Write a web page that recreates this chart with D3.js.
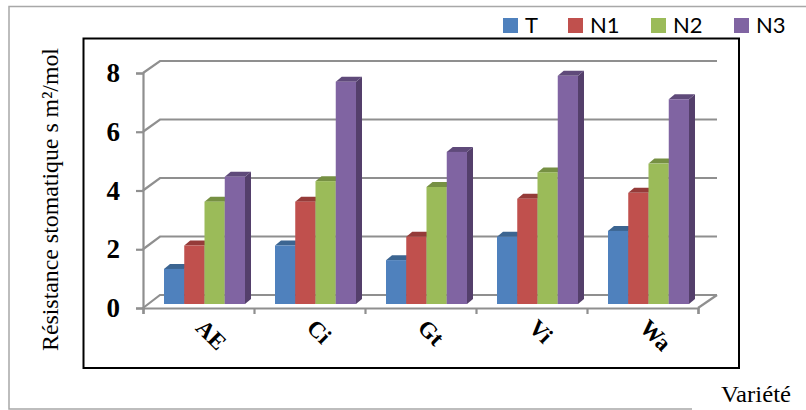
<!DOCTYPE html>
<html>
<head>
<meta charset="utf-8">
<script src="https://cdn.jsdelivr.net/npm/d3@7/dist/d3.min.js"></script>
<style>
  html, body { margin: 0; padding: 0; background: #fff; }
  svg { display: block; }
</style>
</head>
<body>
<div id="chart"></div>
<script>
const categories = ["AE", "Ci", "Gt", "Vi", "Wa"];
const seriesNames = ["T", "N1", "N2", "N3"];
const valuesT = [1.2, 2, 1.5, 2.3, 2.5];
const valuesN1 = [2, 3.5, 2.3, 3.6, 3.8];
const valuesN2 = [3.5, 4.2, 4, 4.5, 4.8];
const valuesN3 = [4.35, 7.6, 5.2, 7.8, 7];
const seriesValues = [valuesT, valuesN1, valuesN2, valuesN3];
const yTicks = [0, 2, 4, 6, 8];

const faceColors = ["#4f81bd", "#c0504d", "#9bbb59", "#8064a2"];
const topColors = ["#3c6591", "#953b39", "#769043", "#5f4a7a"];
const sideColor = "#543f6b";
const gridColor = "#8f8f8f";
const serif = "'Liberation Serif', 'Times New Roman', serif";

const width = 806, height = 410;
const depthX = 17, depthY = 12;      // oblique offset of the back wall
const barDepthX = 6, barDepthY = 5;  // oblique offset of each bar

const svg = d3.select("#chart").append("svg")
  .attr("width", width).attr("height", height);

// Outer frame, open on the right side
svg.append("path")
  .attr("d", d3.line()([[806, 6.5], [9, 6.5], [9, 409], [692, 409]]))
  .attr("fill", "none").attr("stroke", "#a8a8a8").attr("stroke-width", 1.5);

// Plot frame
svg.append("rect")
  .attr("x", 83.5).attr("y", 38.5).attr("width", 655.5).attr("height", 329.5)
  .attr("fill", "#fff").attr("stroke", "#000").attr("stroke-width", 2);

const x = d3.scaleBand().domain(categories).range([143, 698]);
const yFront = d3.scaleLinear().domain([0, 8]).range([308, 73]);
const yWall = d3.scaleLinear().domain([0, 8]).range([295, 61]);
const yBar = d3.scaleLinear().domain([0, 8]).range([304, 70]);
const xSeries = d3.scaleBand().domain(d3.range(seriesNames.length)).range([21, 102]);

// Gridlines on the back wall and their diagonals down to the front axis
const grid = svg.append("g").attr("fill", "none").attr("stroke", gridColor).attr("stroke-width", 2.2);
yTicks.forEach(t => {
  grid.append("path").attr("d", d3.line()([
    [x.range()[0], yFront(t)],
    [x.range()[0] + depthX, yWall(t)],
    [x.range()[1] + depthX + 2, yWall(t)]
  ]));
});
// Floor edge on the right
grid.append("path").attr("d", d3.line()([
  [x.range()[1], yFront(0)],
  [x.range()[1] + depthX + 2, yWall(0)]
]));

// Value axis
const axisY = d3.axisLeft(yFront).tickValues(yTicks).tickFormat(d3.format("d")).tickSize(7).tickPadding(16);
const gy = svg.append("g").attr("transform", `translate(${x.range()[0]},0)`).call(axisY);
gy.selectAll("path,line").attr("stroke", gridColor).attr("stroke-width", 2.2);
gy.selectAll("text")
  .attr("font-family", serif).attr("font-weight", "bold").attr("font-size", 27).attr("fill", "#000");

// Category axis: ticks sit on the band edges
const axisX = d3.axisBottom(d3.scaleLinear().domain([0, categories.length]).range(x.range()))
  .ticks(categories.length).tickFormat("").tickSize(6).tickSizeOuter(6);
const gx = svg.append("g").attr("transform", `translate(0,${yFront(0)})`).call(axisX);
gx.selectAll("path,line").attr("stroke", gridColor).attr("stroke-width", 2.2);

// Bars, drawn series by series so each one covers the side of its left neighbour
const barW = xSeries.bandwidth();
const poly = pts => d3.line()(pts) + "Z";
seriesNames.forEach((name, s) => {
  const g = svg.append("g").attr("class", "series-" + name);
  categories.forEach((c, i) => {
    const left = x(c) + xSeries(s), right = left + barW;
    const top = yBar(seriesValues[s][i]), base = yBar(0);
    g.append("path").attr("fill", sideColor).attr("d", poly([
      [right, top], [right + barDepthX, top - barDepthY],
      [right + barDepthX, base - barDepthY], [right, base]
    ]));
    g.append("path").attr("fill", topColors[s]).attr("d", poly([
      [left, top], [right, top],
      [right + barDepthX, top - barDepthY], [left + barDepthX, top - barDepthY]
    ]));
    g.append("rect").attr("fill", faceColors[s])
      .attr("x", left).attr("y", top).attr("width", barW).attr("height", base - top);
  });
});

// Category labels
svg.append("g").selectAll("text").data(categories).join("text")
  .attr("transform", c => `translate(${x(c) + x.bandwidth() / 2 - 4},329) rotate(45)`)
  .attr("font-family", serif).attr("font-weight", "bold").attr("font-size", 23).attr("fill", "#000")
  .text(c => c);

// Axis titles
svg.append("text")
  .attr("transform", "translate(58,351) rotate(-90)")
  .attr("font-family", serif).attr("font-size", 23).attr("fill", "#000")
  .attr("textLength", 303).attr("lengthAdjust", "spacingAndGlyphs")
  .text("Résistance stomatique s m²/mol");
svg.append("text")
  .attr("x", 721).attr("y", 402)
  .attr("font-family", serif).attr("font-size", 23).attr("fill", "#000")
  .attr("textLength", 70).attr("lengthAdjust", "spacingAndGlyphs")
  .text("Variété");

// Legend
const legendX = d3.scaleOrdinal().domain(seriesNames).range([503, 568, 651, 734]);
const legend = svg.append("g").selectAll("g").data(seriesNames).join("g")
  .attr("transform", d => `translate(${legendX(d)},18)`);
legend.append("rect").attr("width", 15).attr("height", 15).attr("fill", (d, i) => faceColors[i]);
legend.append("text").attr("x", 22).attr("y", 15)
  .attr("font-family", "Lato, 'Open Sans', sans-serif").attr("font-size", 22).attr("fill", "#000")
  .text(d => d);
</script>
</body>
</html>
